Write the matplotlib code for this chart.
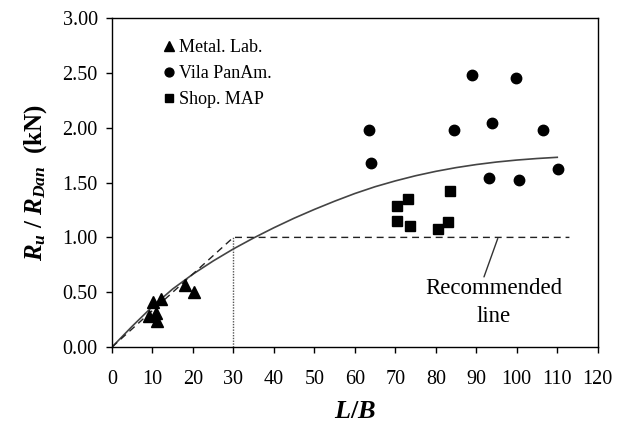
import numpy as np
import matplotlib
matplotlib.use("Agg")
import matplotlib.pyplot as plt

plt.rcParams['font.family'] = ['Liberation Serif', 'DejaVu Serif']
plt.rcParams['mathtext.fontset'] = 'custom'
plt.rcParams['mathtext.it'] = 'Liberation Serif:italic:bold'
plt.rcParams['mathtext.rm'] = 'Liberation Serif:bold'
plt.rcParams['mathtext.bf'] = 'Liberation Serif:bold'

# data
metal_x = [9.1, 10.2, 10.8, 11.2, 12.1, 18.1, 20.2]
metal_y = [0.28, 0.41, 0.31, 0.24, 0.44, 0.57, 0.50]

vila_x = [63.5, 64.1, 84.5, 89.0, 93.2, 94.0, 99.7, 100.6, 106.6, 110.3]
vila_y = [1.98, 1.68, 1.98, 2.48, 1.54, 2.04, 2.45, 1.52, 1.98, 1.62]

shop_x = [70.4, 70.4, 73.2, 73.7, 80.5, 82.9, 83.4]
shop_y = [1.29, 1.15, 1.35, 1.10, 1.08, 1.14, 1.42]

# fitted trend (solid line)
fit_x = [0, 5, 10, 15, 20, 25, 30, 35, 40, 45, 50, 55, 60, 65, 70, 75, 80, 85, 90, 95, 100, 105, 110]
fit_y = [0.0, 0.19, 0.37, 0.53, 0.665, 0.785, 0.895, 0.995, 1.088, 1.175, 1.255, 1.33, 1.40,
         1.462, 1.515, 1.562, 1.602, 1.636, 1.664, 1.687, 1.705, 1.719, 1.73]

# recommended line
rec_x = [0, 30, 113]
rec_y = [0.0, 1.0, 1.0]

fig = plt.figure(figsize=(6.22, 4.28), dpi=100)
ax = fig.add_axes([0.18, 0.189, 0.781, 0.769])

ax.plot(fit_x, fit_y, color='#444444', linewidth=1.2, zorder=2)
ax.plot(rec_x, rec_y, color='#222222', linewidth=1.0, linestyle=(0, (5, 3.5)), zorder=2)
ax.plot([30, 30], [0, 1.0], color='#555555', linewidth=1.0, linestyle=(0, (1, 1)), zorder=2)

ax.plot(metal_x, metal_y, linestyle='none', marker='^', markersize=9, color='black', label='Metal. Lab.', zorder=3)
ax.plot(vila_x, vila_y, linestyle='none', marker='o', markersize=7.5, color='black', label='Vila PanAm.', zorder=3)
ax.plot(shop_x, shop_y, linestyle='none', marker='s', markersize=7, color='black', label='Shop. MAP', zorder=3)

# pointer + label
ax.annotate('', xy=(95.3, 0.99), xytext=(91.9, 0.64),
            arrowprops=dict(arrowstyle='-', color='#333333', lw=1.0, shrinkA=0, shrinkB=0))
ax.text(94.3, 0.41, 'Recommended\nline', ha='center', va='center', fontsize=16.5, linespacing=1.45)

ax.set_xlim(0, 120)
ax.set_ylim(0, 3)
ax.set_xticks(np.arange(0, 121, 10))
ax.set_yticks(np.arange(0, 3.01, 0.5))
ax.set_yticklabels(['%.2f' % v for v in np.arange(0, 3.01, 0.5)])
ax.tick_params(direction='out', length=4.3, width=1, labelsize=14.5)
ax.tick_params(axis='x', pad=12.5)
ax.tick_params(axis='y', pad=6)
for s in ax.spines.values():
    s.set_linewidth(1.0)

ax.set_xlabel('$L/B$', fontsize=19, labelpad=8)
ax.set_ylabel(r'$R_u$ / $R_{Dan}$  (kN)', fontsize=18, fontweight='bold', labelpad=10)

leg = ax.legend(loc='upper left', bbox_to_anchor=(0.07, 0.985), frameon=False,
                fontsize=13, handlelength=0.8, handletextpad=0.15, labelspacing=0.5,
                markerscale=0.85)

fig.savefig('out.png', dpi=100)
